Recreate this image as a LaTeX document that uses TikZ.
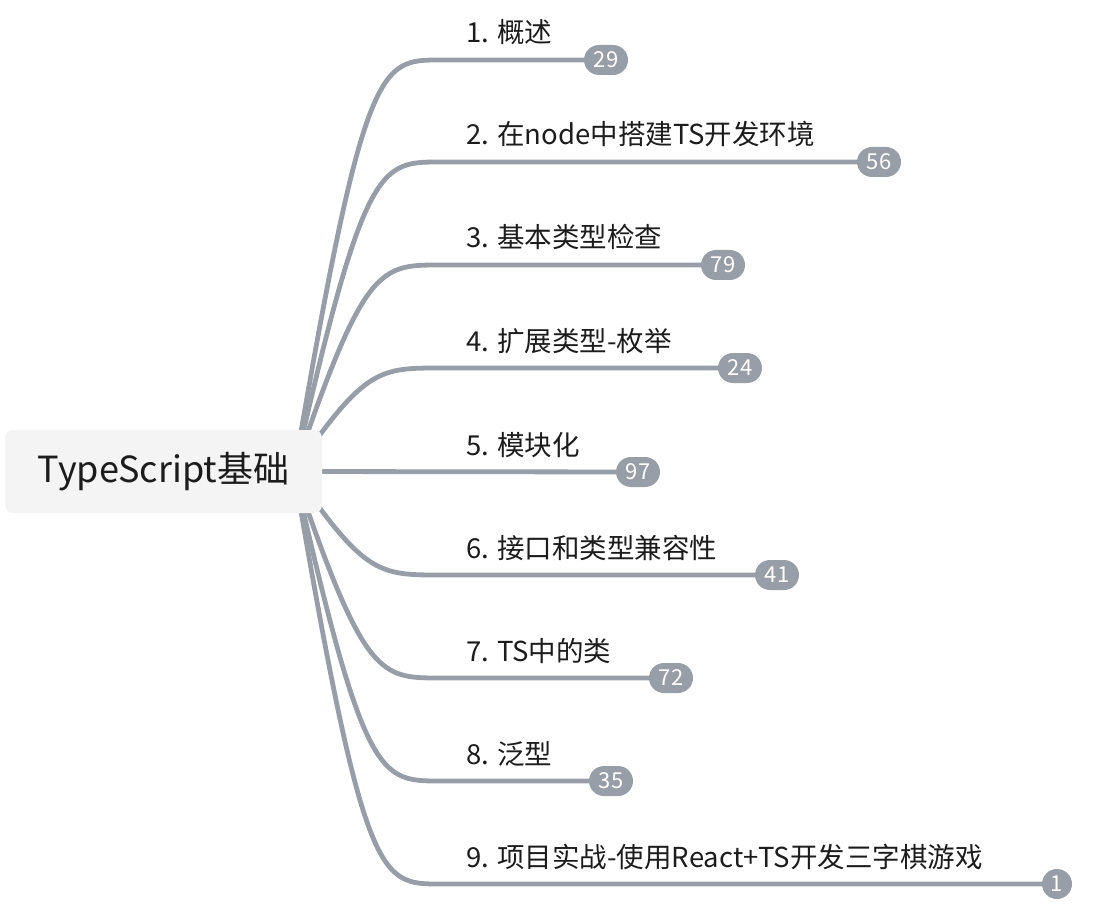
\documentclass[tikz,border=0pt]{standalone}
\usepackage{fontspec}
\setmainfont{Noto Sans CJK SC}
\usetikzlibrary{positioning, backgrounds, calc}
\definecolor{branchgray}{HTML}{989EA7}
\definecolor{rootfill}{HTML}{F4F4F5}
\definecolor{inkdark}{HTML}{1C1C1C}
\tikzstyle{topic} = [anchor=base west, inner sep=0pt, text=inkdark, font=\fontsize{27.5}{32}\selectfont]
\tikzstyle{count} = [rectangle, rounded corners=15pt, minimum width=44pt, minimum height=30pt, inner sep=0pt, fill=branchgray, text=white, font=\fontsize{22}{24}\selectfont]
\tikzstyle{branch} = [draw=branchgray, line width=4.8pt]

\begin{document}
\begin{tikzpicture}[x=1pt, y=-1pt]
  \useasboundingbox (0,0) rectangle (1109,920);
  % Root
  \node[rectangle, rounded corners=8pt, fill=rootfill, minimum width=317pt, minimum height=83pt, text=inkdark, font=\fontsize{36}{40}\selectfont] (root) at (163.5,471.5) {TypeScript基础};
  \coordinate (hub) at ([xshift=-28pt]root.east);

  % Topics
  \coordinate (k1) at (440,60);
  \node[topic] (t1) at (466,43) {1. 概述};
  \node[count] (c1) at ([xshift=166pt]k1) {29};
  \coordinate (k2) at (440,162);
  \node[topic] (t2) at (466,145) {2. 在node中搭建TS开发环境};
  \node[count] (c2) at ([xshift=439pt]k2) {56};
  \coordinate (k3) at (440,265);
  \node[topic] (t3) at (466,248) {3. 基本类型检查};
  \node[count] (c3) at ([xshift=283pt]k3) {79};
  \coordinate (k4) at (440,368);
  \node[topic] (t4) at (466,351) {4. 扩展类型-枚举};
  \node[count] (c4) at ([xshift=300pt]k4) {24};
  \coordinate (k5) at (440,472);
  \node[topic] (t5) at (466,455) {5. 模块化};
  \node[count] (c5) at ([xshift=198pt]k5) {97};
  \coordinate (k6) at (440,575);
  \node[topic] (t6) at (466,558) {6. 接口和类型兼容性};
  \node[count] (c6) at ([xshift=337pt]k6) {41};
  \coordinate (k7) at (440,678);
  \node[topic] (t7) at (466,661) {7. TS中的类};
  \node[count] (c7) at ([xshift=231pt]k7) {72};
  \coordinate (k8) at (440,781);
  \node[topic] (t8) at (466,764) {8. 泛型};
  \node[count] (c8) at ([xshift=171pt]k8) {35};
  \coordinate (k9) at (440,884);
  \node[topic] (t9) at (466,867) {9. 项目实战-使用React+TS开发三字棋游戏};
  \node[count, minimum width=30pt] (c9) at ([xshift=617pt]k9) {1};

  % Branches
  \begin{scope}[on background layer]
    \draw[branch] (hub) .. controls ([xshift=70pt]hub |- k1) and ([xshift=-60pt]k1) .. (k1) -- (c1);
    \draw[branch] (hub) .. controls ([xshift=70pt]hub |- k2) and ([xshift=-60pt]k2) .. (k2) -- (c2);
    \draw[branch] (hub) .. controls ([xshift=70pt]hub |- k3) and ([xshift=-60pt]k3) .. (k3) -- (c3);
    \draw[branch] (hub) .. controls ([xshift=70pt]hub |- k4) and ([xshift=-60pt]k4) .. (k4) -- (c4);
    \draw[branch] (hub) -- (c5);
    \draw[branch] (hub) .. controls ([xshift=70pt]hub |- k6) and ([xshift=-60pt]k6) .. (k6) -- (c6);
    \draw[branch] (hub) .. controls ([xshift=70pt]hub |- k7) and ([xshift=-60pt]k7) .. (k7) -- (c7);
    \draw[branch] (hub) .. controls ([xshift=70pt]hub |- k8) and ([xshift=-60pt]k8) .. (k8) -- (c8);
    \draw[branch] (hub) .. controls ([xshift=70pt]hub |- k9) and ([xshift=-60pt]k9) .. (k9) -- (c9);
  \end{scope}
\end{tikzpicture}
\end{document}
